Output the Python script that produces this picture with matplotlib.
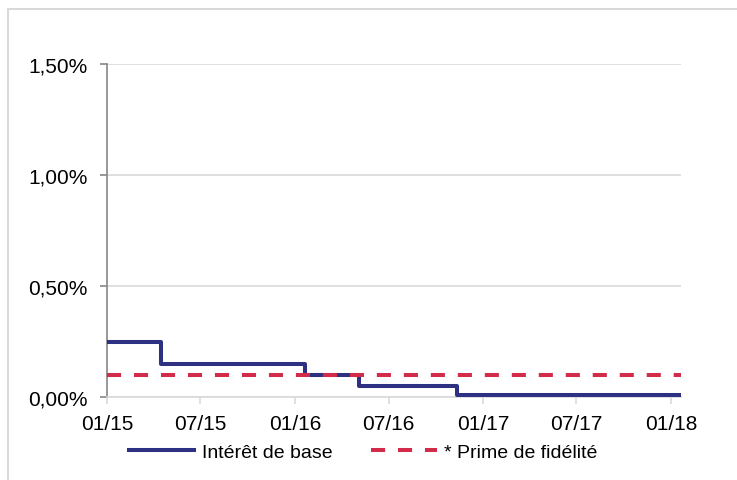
#!/usr/bin/env python3
import matplotlib
matplotlib.use("Agg")
import matplotlib.pyplot as plt
import matplotlib.dates as mdates
from matplotlib.patches import Rectangle
from matplotlib.ticker import FuncFormatter
import numpy as np

plt.rcParams['font.family'] = ['Liberation Sans', 'DejaVu Sans']

# step points of the base rate (%), last value held to the end
base_dates = np.array(['2015-01-01', '2015-04-16', '2016-01-21', '2016-05-05',
                       '2016-11-11', '2018-01-20'], dtype='datetime64[D]')
base_rate = [0.25, 0.15, 0.10, 0.05, 0.01, 0.01]

prime_dates = np.array(['2015-01-01', '2018-01-20'], dtype='datetime64[D]')
prime_rate = [0.10, 0.10]

tick_dates = np.array(['2015-01-01', '2015-07-01', '2016-01-01', '2016-07-01',
                       '2017-01-01', '2017-07-01', '2018-01-01'], dtype='datetime64[D]')
y_ticks = [0, 0.5, 1.0, 1.5]

fig = plt.figure(figsize=(7.37, 4.81), dpi=100)
ax = fig.add_axes([107 / 737, 1 - 398 / 481, (681 - 107) / 737, (398 - 65) / 481])

# light frame around the chart area
fig.patches.append(Rectangle((8 / 737, -0.1), 1.2, 1 - 10 / 481 + 0.1,
                             transform=fig.transFigure, fill=False,
                             edgecolor='#d9d9d9', linewidth=1.5))

ax.step(base_dates, base_rate, where='post', color='#2e3182', linewidth=2.9,
        label='Intérêt de base', zorder=3)
ax.plot(prime_dates, prime_rate, color='#d22c4a', linewidth=2.9,
        dashes=(3.5, 3.2), label='* Prime de fidélité', zorder=4)

ax.set_xlim(base_dates[0], base_dates[-1])
ax.set_ylim(0, 1.5)
ax.set_yticks(y_ticks)
ax.yaxis.set_major_formatter(FuncFormatter(lambda v, p: ('%.2f%%' % v).replace('.', ',')))
ax.set_xticks(tick_dates)
ax.xaxis.set_major_formatter(mdates.DateFormatter('%m/%y'))

ax.grid(axis='y', color='#d9d9d9', linewidth=1.2)
ax.set_axisbelow(True)
for s in ['top', 'right']:
    ax.spines[s].set_visible(False)
ax.spines['left'].set_color('#868686')
ax.spines['left'].set_linewidth(1.2)
ax.spines['bottom'].set_color('#d9d9d9')
ax.spines['bottom'].set_linewidth(1.2)
ax.tick_params(axis='y', length=5, width=1.2, color='#868686', labelsize=15, pad=9)
ax.tick_params(axis='x', length=5, width=1.2, color='#d9d9d9', labelsize=15, pad=7)

fig.legend(*ax.get_legend_handles_labels(), loc='center',
           bbox_to_anchor=(0.493, 1 - 453 / 481), ncol=2, frameon=False,
           fontsize=14, handlelength=3.35, handletextpad=0.4, columnspacing=2.0)

fig.savefig('out.png', dpi=100)
